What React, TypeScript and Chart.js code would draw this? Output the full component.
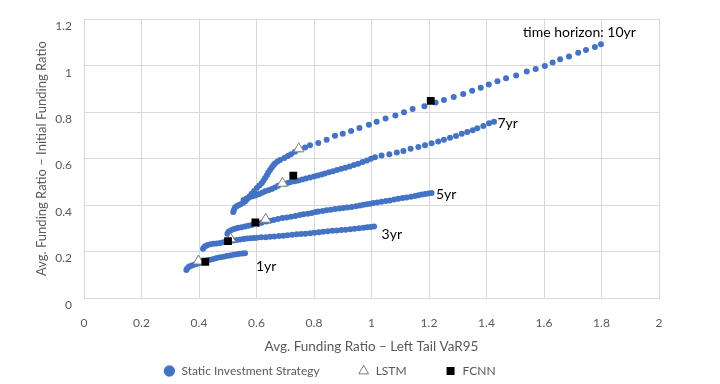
import React, { useEffect, useRef } from "react";
import { Chart, registerables } from "chart.js";

Chart.register(...registerables);

// ---- data (x: Avg. Funding Ratio – Left Tail VaR95, y: Avg. Funding Ratio – Initial Funding Ratio)
const static1yr: [number, number][] = [
  [0.356, 0.120], [0.359, 0.127], [0.364, 0.133], [0.370, 0.138], [0.378, 0.141],
  [0.387, 0.145], [0.396, 0.148], [0.405, 0.152], [0.414, 0.156], [0.427, 0.161],
  [0.438, 0.165], [0.450, 0.168], [0.461, 0.172], [0.473, 0.175], [0.485, 0.178],
  [0.496, 0.181], [0.508, 0.183], [0.520, 0.186], [0.531, 0.188], [0.541, 0.190],
  [0.551, 0.192], [0.560, 0.193],
];

const static3yr: [number, number][] = [
  [0.414, 0.212], [0.418, 0.219], [0.423, 0.224], [0.430, 0.228], [0.440, 0.231],
  [0.450, 0.233], [0.461, 0.235], [0.473, 0.237], [0.485, 0.240], [0.496, 0.242],
  [0.507, 0.245], [0.519, 0.248], [0.531, 0.250], [0.543, 0.252], [0.555, 0.254],
  [0.566, 0.256], [0.578, 0.257], [0.590, 0.258], [0.601, 0.259], [0.616, 0.261],
  [0.632, 0.262], [0.647, 0.264], [0.662, 0.265], [0.678, 0.267], [0.693, 0.268],
  [0.708, 0.270], [0.724, 0.272], [0.740, 0.274], [0.755, 0.276], [0.770, 0.277],
  [0.786, 0.279], [0.801, 0.281], [0.817, 0.283], [0.832, 0.285], [0.848, 0.287],
  [0.864, 0.289], [0.879, 0.291], [0.895, 0.293], [0.910, 0.294], [0.926, 0.296],
  [0.941, 0.298], [0.957, 0.300], [0.972, 0.302], [0.985, 0.304], [0.997, 0.306],
  [1.009, 0.308],
];

const static5yr: [number, number][] = [
  [0.499, 0.277], [0.503, 0.285], [0.510, 0.291], [0.519, 0.296], [0.528, 0.299],
  [0.537, 0.302], [0.548, 0.305], [0.560, 0.308], [0.571, 0.311], [0.583, 0.314],
  [0.606, 0.320], [0.618, 0.324], [0.634, 0.329], [0.647, 0.333], [0.660, 0.336],
  [0.675, 0.340], [0.690, 0.344], [0.705, 0.347], [0.720, 0.350], [0.735, 0.353],
  [0.750, 0.357], [0.763, 0.360], [0.778, 0.363], [0.792, 0.366], [0.806, 0.370],
  [0.815, 0.372], [0.830, 0.375], [0.844, 0.378], [0.858, 0.380], [0.873, 0.383],
  [0.888, 0.385], [0.902, 0.387], [0.916, 0.390], [0.931, 0.392], [0.946, 0.395],
  [0.960, 0.398], [0.972, 0.401], [0.983, 0.404], [0.995, 0.406], [1.006, 0.409],
  [1.020, 0.411], [1.035, 0.414], [1.050, 0.417], [1.064, 0.420], [1.079, 0.424],
  [1.093, 0.427], [1.108, 0.430], [1.122, 0.433], [1.137, 0.436], [1.151, 0.439],
  [1.163, 0.442], [1.175, 0.445], [1.187, 0.448], [1.198, 0.450], [1.209, 0.452],
];

const static7yr: [number, number][] = [
  [0.555, 0.422], [0.565, 0.428], [0.577, 0.435], [0.586, 0.438], [0.595, 0.441],
  [0.604, 0.445], [0.612, 0.449], [0.621, 0.454], [0.630, 0.459], [0.641, 0.464],
  [0.653, 0.469], [0.664, 0.476], [0.675, 0.483], [0.700, 0.492], [0.711, 0.496],
  [0.722, 0.500], [0.734, 0.503], [0.746, 0.506], [0.759, 0.510], [0.772, 0.514],
  [0.786, 0.519], [0.800, 0.523], [0.813, 0.527], [0.826, 0.532], [0.838, 0.536],
  [0.852, 0.541], [0.866, 0.546], [0.880, 0.551], [0.895, 0.556], [0.909, 0.561],
  [0.924, 0.566], [0.939, 0.572], [0.954, 0.578], [0.969, 0.585], [0.984, 0.592],
  [0.998, 0.599], [1.012, 0.606], [1.035, 0.613], [1.062, 0.619], [1.088, 0.626],
  [1.111, 0.633], [1.136, 0.642], [1.163, 0.650], [1.186, 0.657], [1.209, 0.666],
  [1.232, 0.674], [1.252, 0.681], [1.273, 0.690], [1.294, 0.697], [1.314, 0.707],
  [1.333, 0.714], [1.352, 0.722], [1.368, 0.731], [1.389, 0.740], [1.409, 0.752],
  [1.426, 0.759],
];

const static10yr: [number, number][] = [
  [0.519, 0.370], [0.522, 0.380], [0.525, 0.389], [0.531, 0.395], [0.537, 0.399],
  [0.545, 0.404], [0.554, 0.410], [0.562, 0.418], [0.569, 0.427], [0.576, 0.438],
  [0.583, 0.449], [0.592, 0.461], [0.601, 0.473], [0.610, 0.484], [0.618, 0.494],
  [0.624, 0.505], [0.630, 0.516], [0.636, 0.528], [0.641, 0.540], [0.647, 0.551],
  [0.653, 0.562], [0.659, 0.571], [0.664, 0.579], [0.673, 0.587], [0.682, 0.594],
  [0.697, 0.603], [0.709, 0.611], [0.720, 0.619], [0.734, 0.629], [0.751, 0.640],
  [0.769, 0.648], [0.786, 0.657], [0.815, 0.667], [0.844, 0.681], [0.873, 0.698],
  [0.900, 0.707], [0.929, 0.719], [0.958, 0.732], [0.991, 0.746], [1.018, 0.759],
  [1.049, 0.773], [1.083, 0.785], [1.113, 0.799], [1.143, 0.813], [1.184, 0.825],
  [1.223, 0.841], [1.252, 0.852], [1.286, 0.865], [1.319, 0.878], [1.350, 0.892],
  [1.380, 0.905], [1.408, 0.919], [1.438, 0.933], [1.468, 0.946], [1.503, 0.958],
  [1.540, 0.975], [1.571, 0.986], [1.603, 0.999], [1.630, 1.014], [1.656, 1.028],
  [1.687, 1.039], [1.719, 1.056], [1.746, 1.067], [1.777, 1.080], [1.798, 1.092],
];

const lstmPoints: [number, number][] = [
  [0.398, 0.159], [0.510, 0.255], [0.632, 0.339], [0.690, 0.494], [0.747, 0.642],
];

const fcnnPoints: [number, number][] = [
  [0.422, 0.156], [0.501, 0.245], [0.596, 0.325], [0.728, 0.527], [1.206, 0.848],
];

const horizonLabels = ["time horizon: 10yr", "7yr", "5yr", "3yr", "1yr"];
const horizonLabelX = [1.527, 1.438, 1.224, 1.035, 0.598];
const horizonLabelY = [1.141, 0.752, 0.445, 0.273, 0.134];

const seriesNames = ["Static Investment Strategy", "LSTM", "FCNN"];
const xTitle = "Avg. Funding Ratio – Left Tail VaR95";
const yTitle = "Avg. Funding Ratio – Initial Funding Ratio";

const FONT = "Lato, 'Open Sans', sans-serif";
const GRAY = "#595959";

const toXY = (pts: [number, number][]) => pts.map(([x, y]) => ({ x, y }));

const horizonLabelPlugin = {
  id: "horizonLabels",
  afterDatasetsDraw(chart: any) {
    const { ctx, scales } = chart;
    ctx.save();
    ctx.fillStyle = "#000000";
    ctx.font = `14px ${FONT}`;
    ctx.textAlign = "left";
    ctx.textBaseline = "middle";
    horizonLabels.forEach((t, i) => {
      const px = scales.x.getPixelForValue(horizonLabelX[i]);
      const py = scales.y.getPixelForValue(horizonLabelY[i]);
      ctx.fillText(t, px, py);
    });
    ctx.restore();
  },
};

export default function App() {
  const ref = useRef<HTMLCanvasElement | null>(null);

  useEffect(() => {
    if (!ref.current) return;
    const staticAll = [
      ...toXY(static1yr),
      ...toXY(static3yr),
      ...toXY(static5yr),
      ...toXY(static7yr),
      ...toXY(static10yr),
    ];
    const chart = new Chart(ref.current, {
      type: "scatter",
      data: {
        datasets: [
          {
            label: seriesNames[0],
            data: staticAll,
            pointStyle: "circle",
            pointRadius: 3,
            pointHoverRadius: 3,
            pointBackgroundColor: "#4472C4",
            pointBorderColor: "#4472C4",
            backgroundColor: "#4472C4",
            borderColor: "#4472C4",
            pointBorderWidth: 0,
            borderWidth: 0,
            order: 2,
          },
          {
            label: seriesNames[1],
            data: toXY(lstmPoints),
            pointStyle: "triangle",
            pointRadius: 6,
            pointHoverRadius: 6,
            pointBackgroundColor: "#ffffff",
            pointBorderColor: "#7f7f7f",
            backgroundColor: "#ffffff",
            borderColor: "#7f7f7f",
            pointBorderWidth: 1,
            borderWidth: 1,
            order: 1,
          },
          {
            label: seriesNames[2],
            data: toXY(fcnnPoints),
            pointStyle: "rect",
            pointRadius: 5.5,
            pointHoverRadius: 5.5,
            pointBackgroundColor: "#000000",
            pointBorderColor: "#000000",
            backgroundColor: "#000000",
            borderColor: "#000000",
            pointBorderWidth: 0,
            borderWidth: 0,
            order: 0,
          },
        ],
      },
      options: {
        animation: false,
        responsive: false,
        devicePixelRatio: 1,
        layout: { padding: { left: 0, right: 61, top: 15, bottom: 0 } },
        plugins: {
          tooltip: { enabled: false },
          legend: {
            display: true,
            position: "bottom",
            maxHeight: 57,
            labels: {
              usePointStyle: true,
              boxHeight: 8,
              padding: 38,
              color: GRAY,
              font: { family: FONT, size: 12 },
              sort: (a: any, b: any) => a.datasetIndex - b.datasetIndex,
            },
          },
        },
        scales: {
          x: {
            type: "linear",
            min: 0,
            max: 2,
            afterFit: (s: any) => {
              s.height = 29;
            },
            ticks: {
              stepSize: 0.2,
              padding: 18,
              color: GRAY,
              font: { family: FONT, size: 12 },
              callback: (v: any) => String(Math.round(Number(v) * 10) / 10),
            },
            grid: { color: "#d9d9d9", drawTicks: false, lineWidth: 1 },
            border: { display: true, color: "#d9d9d9" },
            title: {
              display: true,
              text: xTitle,
              color: GRAY,
              font: { family: FONT, size: 13.5 },
              padding: { top: 0, bottom: -28 },
            },
          },
          y: {
            type: "linear",
            min: 0,
            max: 1.2,
            afterFit: (s: any) => {
              s.width = 84;
            },
            ticks: {
              stepSize: 0.2,
              padding: 12,
              labelOffset: 7,
              color: GRAY,
              font: { family: FONT, size: 12 },
              callback: (v: any) => String(Math.round(Number(v) * 10) / 10),
            },
            grid: { color: "#d9d9d9", drawTicks: false, lineWidth: 1 },
            border: { display: true, color: "#d9d9d9" },
            title: {
              display: true,
              text: yTitle,
              color: GRAY,
              font: { family: FONT, size: 13 },
              padding: { top: 34, bottom: 0 },
            },
          },
        },
      },
      plugins: [horizonLabelPlugin],
    });
    return () => chart.destroy();
  }, []);

  return (
    <div style={{ position: "fixed", left: 0, top: 0, width: 720, height: 384, background: "#ffffff" }}>
      <canvas ref={ref} width={720} height={384} style={{ width: 720, height: 384, display: "block" }} />
    </div>
  );
}
